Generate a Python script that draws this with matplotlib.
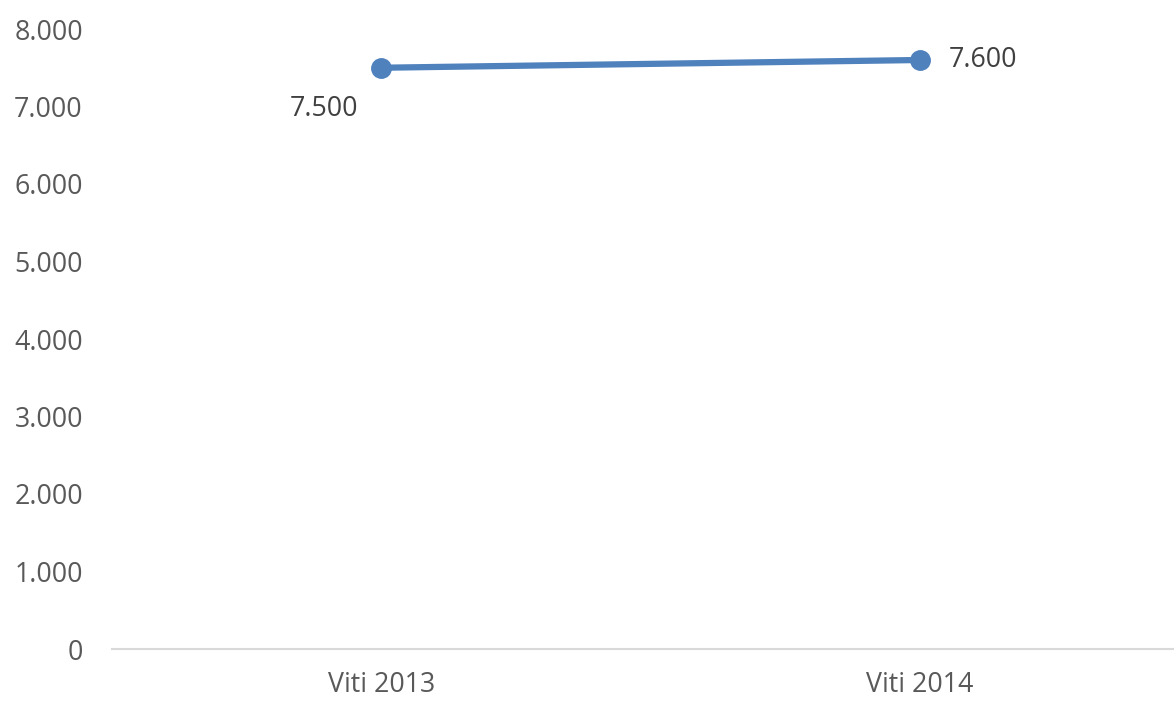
import matplotlib
matplotlib.use("Agg")
import matplotlib.pyplot as plt
from matplotlib.ticker import FuncFormatter

categories = ["Viti 2013", "Viti 2014"]
values = [7500, 7600]
y_ticks = [0, 1000, 2000, 3000, 4000, 5000, 6000, 7000, 8000]

plt.rcParams['font.family'] = ['Open Sans', 'DejaVu Sans']


def fmt(v, pos=None):
    return f"{int(v):,}".replace(",", ".")


fig = plt.figure(figsize=(11.74, 7.02), dpi=100)
ax = fig.add_axes([112 / 1174, 1 - 649 / 702, 1077 / 1174, 620 / 702])

x = list(range(len(categories)))
ax.plot(x, values, color="#4F81BD", lw=4.5, marker="o", markersize=14,
        solid_capstyle="round", zorder=3, clip_on=False)

# data labels: first below-left, second to the right
ax.annotate(fmt(values[0]), (x[0], values[0]), xytext=(-57, -41),
            textcoords="offset pixels", ha="center", va="center",
            fontsize=19.3, color="#404040")
ax.annotate(fmt(values[1]), (x[1], values[1]), xytext=(29, 0),
            textcoords="offset pixels", ha="left", va="center",
            fontsize=19.3, color="#404040")

ax.set_xlim(-0.5, 1.5)
ax.set_ylim(0, 8000)
ax.set_yticks(y_ticks)
ax.yaxis.set_major_formatter(FuncFormatter(fmt))
ax.set_xticks(x)
ax.set_xticklabels(categories)

for s in ["top", "right", "left"]:
    ax.spines[s].set_visible(False)
ax.spines["bottom"].set_color("#D9D9D9")
ax.spines["bottom"].set_linewidth(1.5)

ax.tick_params(axis="y", length=0, pad=21, labelsize=19.3, labelcolor="#595959")
ax.tick_params(axis="x", length=0, pad=16, labelsize=19.3, labelcolor="#595959")

fig.savefig("out.png", dpi=100)
